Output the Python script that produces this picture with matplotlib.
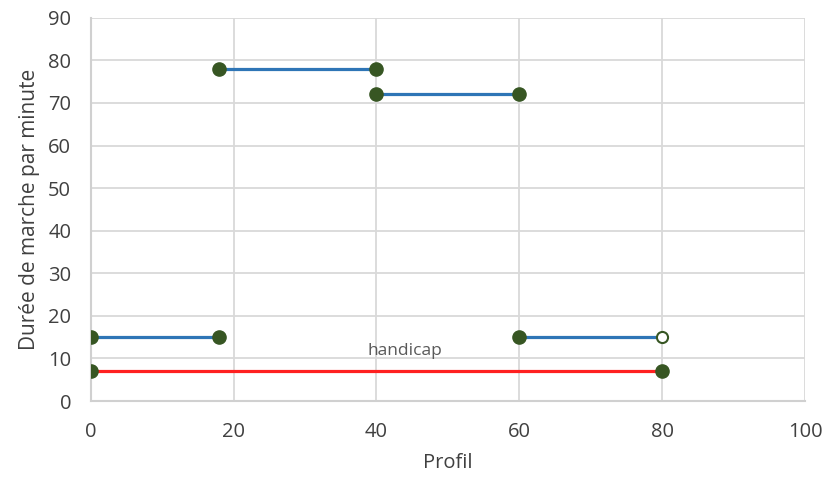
import matplotlib
matplotlib.use("Agg")
import matplotlib.pyplot as plt

# segments of the walking profile (x start, x end, value)
seg_x = [[0, 18], [18, 40], [40, 60], [60, 80]]
seg_y = [[15, 15], [78, 78], [72, 72], [15, 15]]
open_end = [False, False, False, True]

handicap_x = [0, 80]
handicap_y = [7, 7]

blue = "#2e75b6"
red = "#ff2020"
green = "#375623"
txt = "#404040"

plt.rcParams["font.family"] = ["Open Sans", "DejaVu Sans"]

fig = plt.figure(figsize=(8.24, 4.82), dpi=100)
ax = fig.add_axes([0.110, 0.168, 0.867, 0.795])

for xs, ys, op in zip(seg_x, seg_y, open_end):
    ax.plot(xs, ys, color=blue, lw=2.3, zorder=2)
    ax.plot(xs[0], ys[0], "o", ms=9.5, color=green, zorder=3)
    if op:
        ax.plot(xs[1], ys[1], "o", ms=8, mfc="white", mec=green, mew=1.5, zorder=3)
    else:
        ax.plot(xs[1], ys[1], "o", ms=9.5, color=green, zorder=3)

ax.plot(handicap_x, handicap_y, color=red, lw=2.3, zorder=2)
ax.plot(handicap_x, handicap_y, "o", ms=9.5, color=green, lw=0, zorder=3)
ax.text(44, 11.7, "handicap", ha="center", va="center", fontsize=12.5, color="#595959")

ax.set_xlim(0, 100)
ax.set_ylim(0, 90)
ax.set_xticks(range(0, 101, 20))
ax.set_yticks(range(0, 91, 10))
ax.grid(True, color="#d9d9d9", lw=1.3)
ax.set_axisbelow(True)
for s in ["top", "right"]:
    ax.spines[s].set_visible(False)
for s in ["left", "bottom"]:
    ax.spines[s].set_color("#d0d0d0")
    ax.spines[s].set_linewidth(1.5)
ax.tick_params(length=0, labelsize=14.5, colors=txt)
ax.tick_params(axis="x", pad=15)
ax.tick_params(axis="y", pad=14)
ax.set_xlabel("Profil", fontsize=14.5, color=txt, labelpad=8)
ax.set_ylabel("Durée de marche par minute", fontsize=15, color=txt, labelpad=6)

fig.savefig("out.png", dpi=100)
